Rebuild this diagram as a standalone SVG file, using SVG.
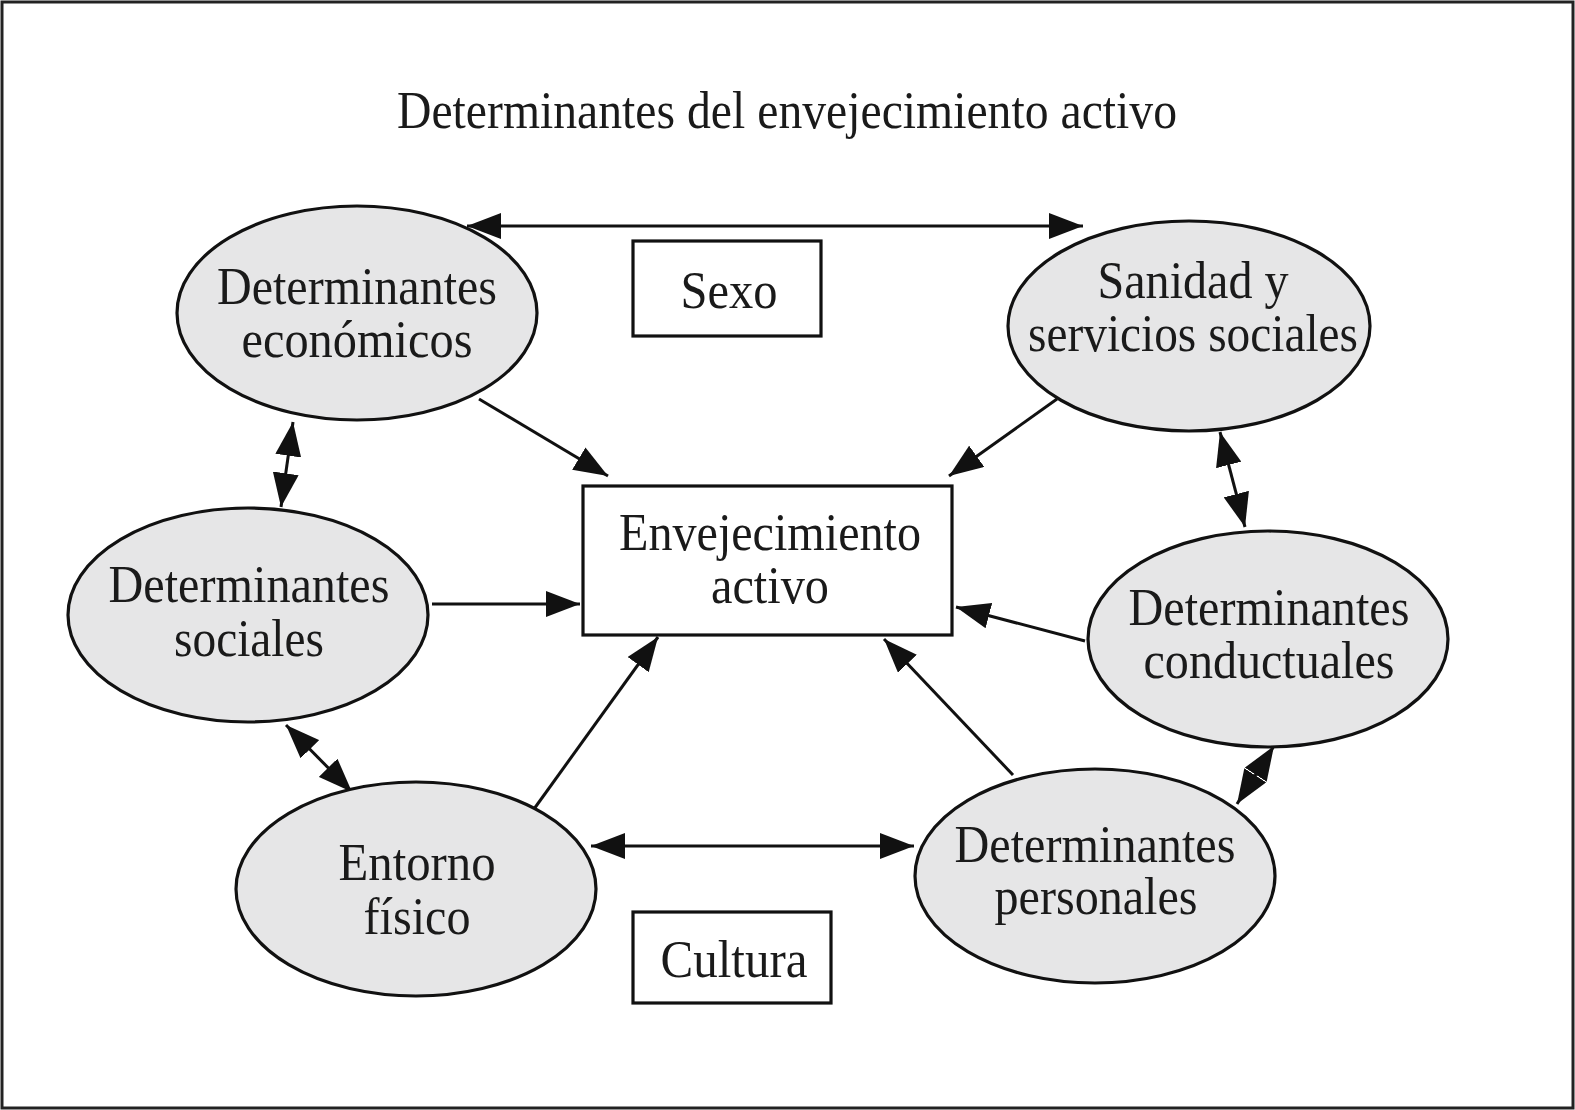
<svg xmlns="http://www.w3.org/2000/svg" width="1575" height="1110" viewBox="0 0 1575 1110">
<style>
  .node { fill: #e6e6e7; stroke: #111; stroke-width: 3.2; }
  .box { fill: #fff; stroke: #111; stroke-width: 3.2; }
  .lbl { font-family: "Liberation Serif", "Times New Roman", serif; font-size: 52px; fill: #1a1a1a; text-anchor: middle; }
  .conn line { stroke: #111; stroke-width: 3; fill: none; }
</style>
<defs>
  <marker id="ah" viewBox="0 0 34 26" refX="34" refY="13" markerWidth="34" markerHeight="26" markerUnits="userSpaceOnUse" orient="auto-start-reverse">
    <path d="M0,0 L34,13 L0,26 z" fill="#111"/>
  </marker>
</defs>
<rect x="0" y="0" width="1575" height="1110" fill="#fff"/>
<rect x="2" y="2" width="1571" height="1106" fill="none" stroke="#222" stroke-width="3"/>
<text class="lbl" x="787" y="128" textLength="780" lengthAdjust="spacingAndGlyphs">Determinantes del envejecimiento activo</text>

<g class="conn">
  <line x1="467" y1="226" x2="1083" y2="226" marker-start="url(#ah)" marker-end="url(#ah)"/>
  <line x1="479" y1="399" x2="608" y2="476" marker-end="url(#ah)"/>
  <line x1="1057" y1="399" x2="949" y2="476" marker-end="url(#ah)"/>
  <line x1="293" y1="422" x2="281" y2="507" marker-start="url(#ah)" marker-end="url(#ah)"/>
  <line x1="432" y1="604" x2="580" y2="604" marker-end="url(#ah)"/>
  <line x1="1220" y1="432" x2="1245" y2="527" marker-start="url(#ah)" marker-end="url(#ah)"/>
  <line x1="1085" y1="641" x2="956" y2="607" marker-end="url(#ah)"/>
  <line x1="286" y1="725" x2="352" y2="792" marker-start="url(#ah)" marker-end="url(#ah)"/>
  <line x1="534" y1="809" x2="658" y2="637" marker-end="url(#ah)"/>
  <line x1="1013" y1="775" x2="884" y2="639" marker-end="url(#ah)"/>
  <line x1="1274" y1="746" x2="1237" y2="804" marker-start="url(#ah)" marker-end="url(#ah)"/>
  <line x1="591" y1="846" x2="914" y2="846" marker-start="url(#ah)" marker-end="url(#ah)"/>
</g>

<g id="economicos">
  <ellipse class="node" cx="357" cy="313" rx="180" ry="107"/>
  <text class="lbl" x="357" y="304" textLength="280" lengthAdjust="spacingAndGlyphs">Determinantes</text>
  <text class="lbl" x="357" y="357" textLength="231" lengthAdjust="spacingAndGlyphs">económicos</text>
</g>
<g id="sexo">
  <rect class="box" x="633" y="241" width="188" height="95"/>
  <text class="lbl" x="729" y="308" textLength="97" lengthAdjust="spacingAndGlyphs">Sexo</text>
</g>
<g id="sanidad">
  <ellipse class="node" cx="1189" cy="326" rx="181" ry="105"/>
  <text class="lbl" x="1193" y="298" textLength="191" lengthAdjust="spacingAndGlyphs">Sanidad y</text>
  <text class="lbl" x="1193" y="351" textLength="330" lengthAdjust="spacingAndGlyphs">servicios sociales</text>
</g>
<g id="envejecimiento">
  <rect class="box" x="583" y="486" width="369" height="149"/>
  <text class="lbl" x="770" y="550" font-size="49" textLength="302" lengthAdjust="spacingAndGlyphs">Envejecimiento</text>
  <text class="lbl" x="770" y="603" font-size="49" textLength="118" lengthAdjust="spacingAndGlyphs">activo</text>
</g>
<g id="sociales">
  <ellipse class="node" cx="248" cy="615" rx="180" ry="107"/>
  <text class="lbl" x="249" y="602" textLength="281" lengthAdjust="spacingAndGlyphs">Determinantes</text>
  <text class="lbl" x="249" y="656" textLength="150" lengthAdjust="spacingAndGlyphs">sociales</text>
</g>
<g id="conductuales">
  <ellipse class="node" cx="1268" cy="639" rx="180" ry="108"/>
  <text class="lbl" x="1269" y="625" textLength="281" lengthAdjust="spacingAndGlyphs">Determinantes</text>
  <text class="lbl" x="1269" y="678" textLength="251" lengthAdjust="spacingAndGlyphs">conductuales</text>
</g>
<g id="entorno">
  <ellipse class="node" cx="416" cy="889" rx="180" ry="107"/>
  <text class="lbl" x="417" y="880" textLength="157" lengthAdjust="spacingAndGlyphs">Entorno</text>
  <text class="lbl" x="417" y="934" textLength="107" lengthAdjust="spacingAndGlyphs">físico</text>
</g>
<g id="personales">
  <ellipse class="node" cx="1095" cy="876" rx="180" ry="107"/>
  <text class="lbl" x="1095" y="862" textLength="281" lengthAdjust="spacingAndGlyphs">Determinantes</text>
  <text class="lbl" x="1096" y="914" textLength="203" lengthAdjust="spacingAndGlyphs">personales</text>
</g>
<g id="cultura">
  <rect class="box" x="633" y="912" width="198" height="91"/>
  <text class="lbl" x="734" y="977" textLength="147" lengthAdjust="spacingAndGlyphs">Cultura</text>
</g>
</svg>
